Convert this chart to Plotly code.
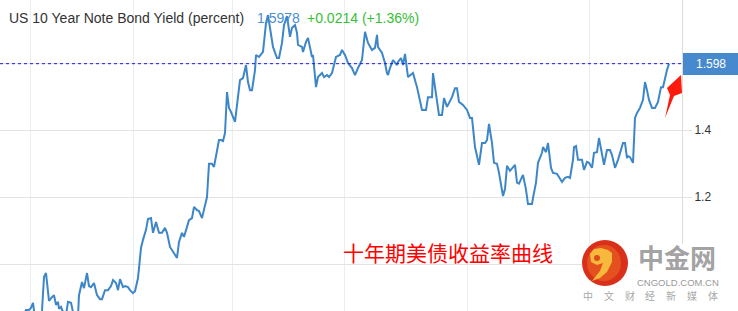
import plotly.graph_objects as go

# ---------------- data ----------------
days = [0, 20, 26, 29, 31, 33, 35, 39, 42, 44, 46, 49, 52, 54, 56, 58, 59, 61, 63, 66,
        68, 71, 73, 76, 78, 79, 82, 84, 87, 89, 91, 94, 97, 100, 102, 105, 108, 111, 113, 116,
        118, 120, 123, 125, 128, 130, 133, 135, 138, 141, 143, 146, 148, 151, 153, 156, 159, 162, 165, 167,
        170, 172, 175, 177, 179, 182, 184, 187, 189, 192, 194, 197, 199, 202, 204, 207, 209, 212, 214, 217,
        219, 221, 223, 225, 227, 229, 231, 235, 238, 240, 243, 246, 248, 250, 252, 255, 256, 259, 263, 266,
        268, 270, 273, 277, 279, 282, 284, 287, 290, 292, 295, 297, 298, 302, 303, 306, 308, 312, 313, 316,
        318, 322, 324, 327, 329, 332, 334, 336, 340, 342, 345, 348, 352, 355, 358, 362, 365, 368, 372, 375,
        377, 378, 382, 385, 387, 388, 390, 393, 397, 398, 401, 403, 405, 408, 413, 417, 422, 426, 428, 432,
        433, 436, 439, 442, 444, 447, 452, 455, 457, 459, 463, 467, 470, 472, 475, 479, 482, 485, 487, 489,
        492, 494, 497, 499, 503, 505, 507, 510, 513, 515, 517, 519, 523, 526, 528, 532, 533, 536, 538, 542,
        543, 546, 548, 551, 553, 557, 559, 562, 565, 568, 570, 573, 574, 576, 578, 582, 584, 587, 589, 592,
        594, 597, 599, 602, 604, 607, 610, 612, 615, 618, 621, 623, 625, 627, 628, 630, 633, 635, 637, 640,
        643, 645, 647, 649, 652, 655, 658, 661, 663, 665, 667, 669]

yields = [0.803, 0.818, 0.863, 0.863, 0.869, 0.884, 0.839, 0.827, 0.860, 0.961, 0.973, 0.890, 0.901, 0.907, 0.878, 0.887, 0.866, 0.872, 0.857, 0.848,
          0.887, 0.884, 0.857, 0.839, 0.845, 0.907, 0.946, 0.928, 0.973, 0.934, 0.931, 0.943, 0.907, 0.895, 0.895, 0.922, 0.922, 0.934, 0.952, 0.943,
          0.922, 0.955, 0.931, 0.934, 0.931, 0.922, 0.913, 0.919, 0.958, 1.048, 1.072, 1.102, 1.134, 1.137, 1.093, 1.125, 1.093, 1.093, 1.108, 1.093,
          1.051, 1.042, 1.027, 1.018, 1.066, 1.093, 1.081, 1.113, 1.131, 1.137, 1.170, 1.161, 1.158, 1.137, 1.161, 1.200, 1.299, 1.299, 1.290, 1.340,
          1.370, 1.370, 1.367, 1.391, 1.513, 1.466, 1.454, 1.424, 1.505, 1.549, 1.555, 1.594, 1.543, 1.519, 1.519, 1.579, 1.624, 1.618, 1.633, 1.719,
          1.743, 1.699, 1.648, 1.615, 1.615, 1.660, 1.713, 1.740, 1.678, 1.705, 1.713, 1.690, 1.654, 1.648, 1.633, 1.663, 1.675, 1.618, 1.624, 1.528,
          1.558, 1.570, 1.558, 1.564, 1.558, 1.570, 1.594, 1.618, 1.624, 1.639, 1.624, 1.600, 1.585, 1.564, 1.585, 1.609, 1.693, 1.660, 1.639, 1.645,
          1.684, 1.648, 1.630, 1.600, 1.570, 1.564, 1.585, 1.609, 1.594, 1.603, 1.615, 1.594, 1.627, 1.558, 1.570, 1.528, 1.460, 1.460, 1.498, 1.498,
          1.570, 1.510, 1.445, 1.445, 1.495, 1.469, 1.498, 1.525, 1.525, 1.484, 1.475, 1.460, 1.436, 1.436, 1.349, 1.296, 1.361, 1.361, 1.370, 1.418,
          1.361, 1.302, 1.299, 1.272, 1.203, 1.224, 1.293, 1.278, 1.287, 1.296, 1.243, 1.240, 1.266, 1.222, 1.179, 1.179, 1.197, 1.243, 1.302, 1.332,
          1.349, 1.334, 1.361, 1.287, 1.272, 1.269, 1.260, 1.245, 1.257, 1.260, 1.257, 1.311, 1.349, 1.352, 1.311, 1.311, 1.281, 1.305, 1.302, 1.287,
          1.332, 1.334, 1.376, 1.334, 1.296, 1.340, 1.340, 1.325, 1.287, 1.311, 1.340, 1.361, 1.361, 1.316, 1.322, 1.319, 1.302, 1.436, 1.451, 1.466,
          1.490, 1.543, 1.519, 1.490, 1.466, 1.466, 1.484, 1.528, 1.528, 1.558, 1.579, 1.598]

last_value = 1.598
last_label = "1.598"
title_text = "US 10 Year Note Bond Yield (percent)"
quote_value = "1.5978"
quote_change = "+0.0214 (+1.36%)"
y_tick_values = [1.0, 1.2, 1.4, 1.6, 1.8]
y_tick_labels = ["", "1.2", "1.4", "", ""]
period_lines = [30, 133, 232, 344, 467, 589]
caption = "十年期美债收益率曲线"
logo_name = "中金网"
logo_domain = "CNGOLD.COM.CN"
logo_slogan = ["中", "文", "财", "经", "新", "媒", "体"]

# ---------------- layout helpers ----------------
W, H = 738, 311
PW = 682  # plot area width in pixels


def px(x):
    return x / PW


def py(y):
    return 1 - y / H


def path(points):
    s = "M " + " L ".join(f"{px(a):.5f},{py(b):.5f}" for a, b in points) + " Z"
    return s


LINE_BLUE = "#3d86c8"

fig = go.Figure()
fig.add_trace(go.Scatter(
    x=days, y=yields, mode="lines",
    line=dict(color=LINE_BLUE, width=2),
    hoverinfo="skip", showlegend=False,
))

shapes = []
# dotted last-value line
shapes.append(dict(type="line", xref="paper", yref="y", x0=0, x1=1,
                   y0=last_value, y1=last_value,
                   line=dict(color="#1a1ae6", width=1, dash="dot"), layer="above"))
# price box
shapes.append(dict(type="rect", xref="paper", yref="paper",
                   x0=px(683), x1=px(738), y0=py(75), y1=py(53),
                   fillcolor="#4689ce", line=dict(width=0), layer="above"))
# red arrow
shapes.append(dict(type="path", xref="paper", yref="paper",
                   path=path([(665, 118), (670, 95), (667, 88), (681, 75),
                              (682, 93), (674, 96)]),
                   fillcolor="#ff1a0e", line=dict(width=0), layer="above"))
# logo white backing
shapes.append(dict(type="rect", xref="paper", yref="paper",
                   x0=px(582), x1=px(738), y0=py(311), y1=py(244),
                   fillcolor="white", line=dict(width=0), layer="above"))
# logo circle
shapes.append(dict(type="circle", xref="paper", yref="paper",
                   x0=px(582), x1=px(628), y0=py(286), y1=py(240),
                   fillcolor="#d9301b", line=dict(width=0), layer="above"))
shapes.append(dict(type="circle", xref="paper", yref="paper",
                   x0=px(587), x1=px(621), y0=py(281), y1=py(245),
                   fillcolor="#e5501f", line=dict(width=0), layer="above"))
# swirl
shapes.append(dict(type="path", xref="paper", yref="paper",
                   path=path([(590, 254), (594, 249), (601, 248), (608, 250), (612, 253),
                              (612, 262), (607, 272), (600, 278), (592, 281),
                              (600, 271), (603, 263), (597, 265), (591, 262)]),
                   fillcolor="#f7b93c", line=dict(width=0), layer="above"))
shapes.append(dict(type="circle", xref="paper", yref="paper",
                   x0=px(594), x1=px(600), y0=py(261), y1=py(255),
                   fillcolor="#e04a1d", line=dict(width=0), layer="above"))

annotations = []
TF = "Liberation Sans, Arial, sans-serif"
annotations.append(dict(xref="paper", yref="paper", x=px(7), y=py(18),
                        xanchor="left", yanchor="middle", showarrow=False,
                        text=title_text, font=dict(family=TF, size=14, color="#333333")))
annotations.append(dict(xref="paper", yref="paper", x=px(255), y=py(18),
                        xanchor="left", yanchor="middle", showarrow=False,
                        text=quote_value, font=dict(family=TF, size=14, color="#4a8fd0")))
annotations.append(dict(xref="paper", yref="paper", x=px(305), y=py(18),
                        xanchor="left", yanchor="middle", showarrow=False,
                        text=quote_change, font=dict(family=TF, size=14, color="#35c035")))
annotations.append(dict(xref="paper", yref="paper", x=px(711), y=py(64),
                        xanchor="center", yanchor="middle", showarrow=False,
                        text=last_label, font=dict(family=TF, size=12, color="white")))
CJK = "Noto Sans CJK SC"
annotations.append(dict(xref="paper", yref="paper", x=px(448), y=py(252),
                        xanchor="center", yanchor="middle", showarrow=False,
                        text=caption, font=dict(family=CJK, size=21, color="#ff0000")))
annotations.append(dict(xref="paper", yref="paper", x=px(677), y=py(256.5),
                        xanchor="center", yanchor="middle", showarrow=False,
                        text=f"<b>{logo_name}</b>", font=dict(family=CJK, size=26, color="#a3a3a3")))
annotations.append(dict(xref="paper", yref="paper", x=px(678), y=py(282),
                        xanchor="center", yanchor="middle", showarrow=False,
                        text=logo_domain, font=dict(family=TF, size=9.5, color="#9a9a9a")))
for i, ch in enumerate(logo_slogan):
    annotations.append(dict(xref="paper", yref="paper", x=px(588 + i * 20.8), y=py(295),
                            xanchor="center", yanchor="middle", showarrow=False,
                            text=ch, font=dict(family=CJK, size=10, color="#a8a8a8")))

fig.update_layout(
    width=W, height=H, autosize=False,
    margin=dict(l=0, r=W - PW, t=0, b=0, pad=0),
    paper_bgcolor="white", plot_bgcolor="white",
    showlegend=False,
    shapes=shapes, annotations=annotations,
    xaxis=dict(range=[0, PW], tickvals=period_lines, showticklabels=False,
               showgrid=True, gridcolor="#e9eef5", gridwidth=1,
               zeroline=False, showline=False, ticks="", fixedrange=True),
    yaxis=dict(range=[0.8597, 1.7881], side="right",
               tickvals=y_tick_values, ticktext=y_tick_labels,
               showgrid=True, gridcolor="#e3e3e3", gridwidth=1,
               zeroline=False, showline=True, linecolor="#dcdcdc", linewidth=1,
               ticks="outside", ticklen=9, tickcolor="#e3e3e3",
               tickfont=dict(family=TF, size=12, color="#333333"), fixedrange=True),
)

fig.write_html("out.html", config={"displayModeBar": False})
